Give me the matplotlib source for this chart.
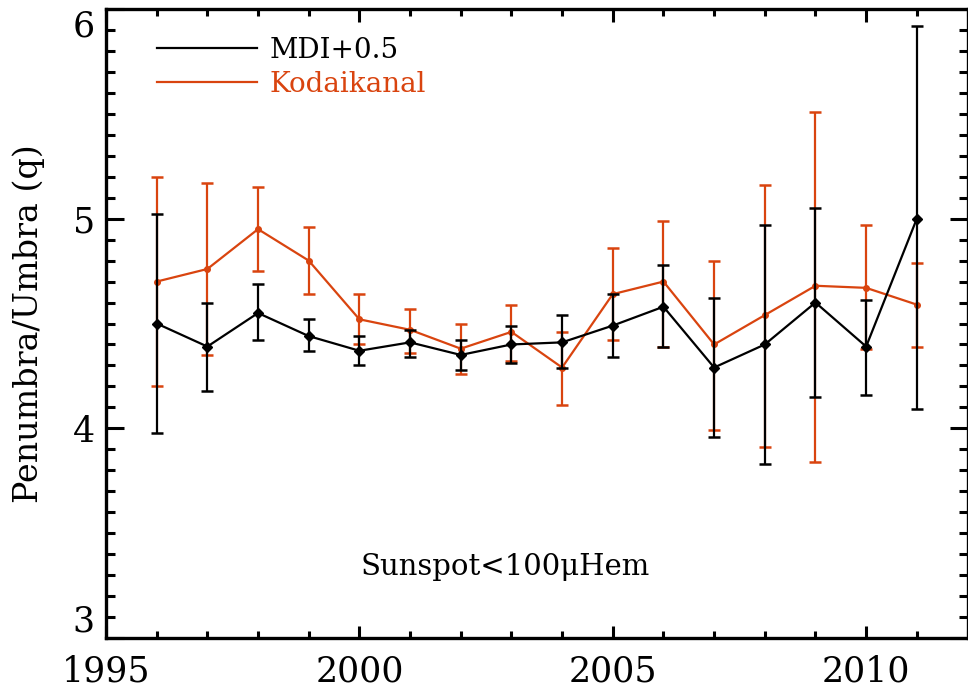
import numpy as np
import matplotlib
matplotlib.use('Agg')
import matplotlib.pyplot as plt
from matplotlib.lines import Line2D
from matplotlib.ticker import MultipleLocator

plt.rcParams['font.family'] = ['DejaVu Serif']

# values
years = [1996, 1997, 1998, 1999, 2000, 2001, 2002, 2003,
         2004, 2005, 2006, 2007, 2008, 2009, 2010, 2011]

mdi_q = [4.50, 4.39, 4.55, 4.44, 4.37, 4.41, 4.35, 4.40,
         4.41, 4.49, 4.58, 4.29, 4.40, 4.60, 4.39, 5.00]
mdi_hi = [5.02, 4.60, 4.69, 4.52, 4.44, 4.47, 4.42, 4.49,
          4.54, 4.64, 4.78, 4.62, 4.97, 5.05, 4.61, 5.92]
mdi_lo = [3.98, 4.18, 4.42, 4.37, 4.30, 4.34, 4.28, 4.31,
          4.29, 4.34, 4.39, 3.96, 3.83, 4.15, 4.16, 4.09]

kod_q = [4.70, 4.76, 4.95, 4.80, 4.52, 4.47, 4.38, 4.46,
         4.29, 4.64, 4.70, 4.40, 4.54, 4.68, 4.67, 4.59]
kod_hi = [5.20, 5.17, 5.15, 4.96, 4.64, 4.57, 4.50, 4.59,
          4.46, 4.86, 4.99, 4.80, 5.16, 5.51, 4.97, 4.79]
kod_lo = [4.20, 4.35, 4.75, 4.64, 4.40, 4.36, 4.26, 4.32,
          4.11, 4.42, 4.39, 3.99, 3.91, 3.84, 4.38, 4.39]

orange = '#d9440f'

fig = plt.figure(figsize=(9.68, 6.93), dpi=100)
ax = fig.add_axes([106/968, 55/693, 861.5/968, 629/693])

kod_err = [np.array(kod_q) - np.array(kod_lo), np.array(kod_hi) - np.array(kod_q)]
mdi_err = [np.array(mdi_q) - np.array(mdi_lo), np.array(mdi_hi) - np.array(mdi_q)]

ax.errorbar(years, kod_q, yerr=kod_err, color=orange, lw=1.6, elinewidth=1.6,
            capsize=4, capthick=1.8, marker='o', ms=4, zorder=2)
ax.errorbar(years, mdi_q, yerr=mdi_err, color='black', lw=1.6, elinewidth=1.6,
            capsize=4, capthick=1.8, marker='D', ms=5, zorder=3)

ax.set_xlim(1995, 2012)
ax.set_ylim(3, 6)
ax.xaxis.set_major_locator(MultipleLocator(5))
ax.xaxis.set_minor_locator(MultipleLocator(1))
ax.yaxis.set_major_locator(MultipleLocator(1))
ax.yaxis.set_minor_locator(MultipleLocator(0.1))

for s in ax.spines.values():
    s.set_linewidth(2.4)
ax.tick_params(axis='both', which='both', direction='in', top=True, right=True,
               width=2.2, labelsize=25)
ax.tick_params(axis='x', which='major', length=9, pad=12)
ax.tick_params(axis='x', which='minor', length=5)
ax.tick_params(axis='y', which='major', length=13, pad=8)
ax.tick_params(axis='y', which='minor', length=6.5)

# end labels sit inside the axis range, as in the original
fig.canvas.draw()
for t in ax.yaxis.get_major_ticks():
    if abs(t.get_loc() - 3) < 1e-6:
        t.label1.set_verticalalignment('bottom')
    elif abs(t.get_loc() - 6) < 1e-6:
        t.label1.set_verticalalignment('top')

ax.set_ylabel('Penumbra/Umbra (q)', fontsize=24, labelpad=20)

ax.text(2002.88, 3.34, 'Sunspot<100μHem', fontsize=21, ha='center', va='center')

handles = [Line2D([], [], color='black', lw=1.6),
           Line2D([], [], color=orange, lw=1.6)]
leg = ax.legend(handles, ['MDI+0.5', 'Kodaikanal'], loc='upper left',
                bbox_to_anchor=(0.03, 0.995), frameon=False, fontsize=20,
                handlelength=3.6, handletextpad=0.45, labelspacing=0.25,
                labelcolor='linecolor')

fig.savefig('out.png', dpi=100)
